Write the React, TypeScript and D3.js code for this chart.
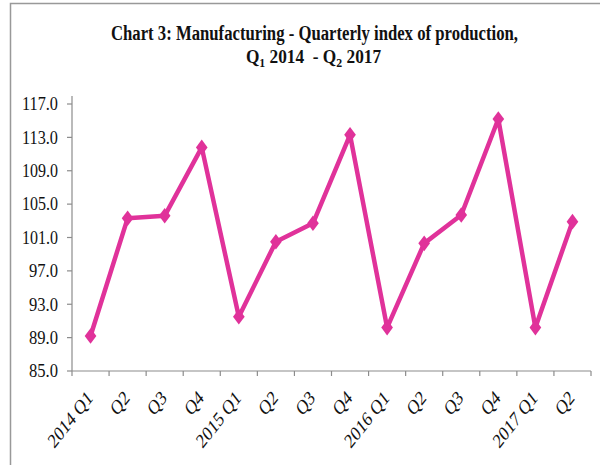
import React from "react";
import * as d3 from "d3";

const categories = ["2014 Q1", "Q2", "Q3", "Q4", "2015 Q1", "Q2", "Q3", "Q4", "2016 Q1", "Q2", "Q3", "Q4", "2017 Q1", "Q2"];
const values = [89.2, 103.3, 103.6, 111.8, 91.5, 100.5, 102.7, 113.3, 90.2, 100.3, 103.7, 115.2, 90.2, 102.9];
const yTicks = [85, 89, 93, 97, 101, 105, 109, 113, 117];

const W = 600;
const H = 465;
const plot = { left: 72, right: 591, top: 96, bottom: 371 };
const COLOR = "#E0329A";
const AXIS = "#8c8c8c";

export default function App() {
  const x = d3.scaleBand<number>().domain(d3.range(categories.length)).range([plot.left, plot.right]);
  const y = d3.scaleLinear().domain([85, 117]).range([plot.bottom, 104]);
  const cx = (i: number) => (x(i) as number) + x.bandwidth() / 2;
  const line = d3.line<number>().x((_, i) => cx(i)).y((d) => y(d));
  const diamond = d3.symbol().type(d3.symbolDiamond).size(70)() as string;
  const serif = "'Liberation Serif', 'Times New Roman', serif";

  return (
    <svg width={W} height={H} style={{ position: "absolute", left: 0, top: 0, background: "#fff" }}>
      <rect x={0} y={0} width={W} height={H} fill="#fff" />
      <rect x={10.5} y={3.5} width={620} height={500} fill="none" stroke="#999" strokeWidth={1.5} />
      <g fontFamily={serif} fontWeight="bold" fill="#111" textAnchor="middle">
        <text x={314.5} y={40} fontSize={20} textLength={407} lengthAdjust="spacingAndGlyphs">
          Chart 3: Manufacturing - Quarterly index of production,
        </text>
        <g transform="translate(313.5,63) scale(0.91,1)">
          <text x={0} y={0} fontSize={19} style={{ whiteSpace: "pre" }}>
            Q<tspan fontSize={13} dy={4}>1</tspan>
            <tspan dy={-4}>{" 2014  - Q"}</tspan>
            <tspan fontSize={13} dy={4}>2</tspan>
            <tspan dy={-4}>{" 2017"}</tspan>
          </text>
        </g>
      </g>
      {/* y axis */}
      <line x1={plot.left} x2={plot.left} y1={plot.top} y2={plot.bottom} stroke={AXIS} strokeWidth={1.2} />
      {yTicks.map((t) => (
        <g key={t}>
          <line x1={plot.left - 5} x2={plot.left} y1={y(t)} y2={y(t)} stroke={AXIS} strokeWidth={1.2} />
          <text
            x={58}
            y={y(t)}
            dy="0.35em"
            textAnchor="end"
            fontFamily={serif}
            fontSize={18}
            fill="#111"
            textLength={t >= 100 ? 36 : 29}
            lengthAdjust="spacingAndGlyphs"
          >
            {t.toFixed(1)}
          </text>
        </g>
      ))}
      {/* x axis */}
      <line x1={plot.left} x2={plot.right} y1={plot.bottom} y2={plot.bottom} stroke={AXIS} strokeWidth={1.2} />
      {d3.range(categories.length + 1).map((i) => {
        const xx = plot.left + i * x.bandwidth();
        return <line key={i} x1={xx} x2={xx} y1={plot.bottom} y2={plot.bottom + 5} stroke={AXIS} strokeWidth={1.2} />;
      })}
      {categories.map((c, i) => (
        <text
          key={i}
          transform={`translate(${cx(i) + 3},${plot.bottom + 28}) scale(0.78,1) rotate(-45)`}
          textAnchor="end"
          fontFamily={serif}
          fontSize={20.5}
          fill="#111"
        >
          {c}
        </text>
      ))}
      <path d={line(values) as string} fill="none" stroke={COLOR} strokeWidth={4.5} strokeLinejoin="round" />
      {values.map((v, i) => (
        <path key={i} d={diamond} transform={`translate(${cx(i)},${y(v)}) scale(1.3,1)`} fill={COLOR} />
      ))}
    </svg>
  );
}
